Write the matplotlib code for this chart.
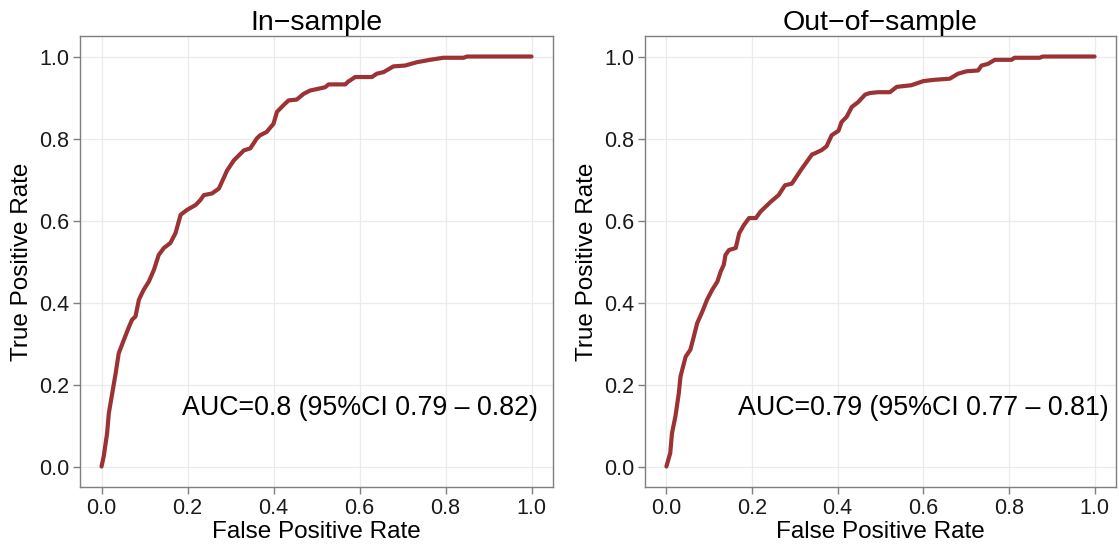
import matplotlib
matplotlib.use("Agg")
import matplotlib.pyplot as plt

plt.rcParams['font.family'] = ['Liberation Sans', 'DejaVu Sans']

# ROC curve, in-sample
fpr_in = [0.0, 0.005, 0.013, 0.017, 0.025, 0.033, 0.04, 0.052, 0.064, 0.071, 0.079, 0.087,
          0.098, 0.11, 0.122, 0.133, 0.145, 0.16, 0.172, 0.184, 0.199, 0.219, 0.23, 0.238,
          0.257, 0.273, 0.292, 0.308, 0.331, 0.346, 0.361, 0.369, 0.384, 0.4, 0.408, 0.423,
          0.435, 0.454, 0.47, 0.485, 0.52, 0.528, 0.567, 0.574, 0.59, 0.629, 0.64, 0.656,
          0.679, 0.706, 0.733, 0.764, 0.795, 0.842, 0.85, 1.0]
tpr_in = [0.0, 0.024, 0.081, 0.13, 0.179, 0.228, 0.276, 0.309, 0.341, 0.358, 0.366, 0.407,
          0.431, 0.451, 0.48, 0.516, 0.533, 0.545, 0.569, 0.614, 0.626, 0.638, 0.65, 0.662,
          0.666, 0.678, 0.722, 0.747, 0.771, 0.776, 0.8, 0.808, 0.816, 0.836, 0.865, 0.881,
          0.893, 0.895, 0.909, 0.917, 0.925, 0.932, 0.932, 0.939, 0.95, 0.95, 0.958, 0.962,
          0.976, 0.978, 0.986, 0.992, 0.997, 0.997, 1.0, 1.0]

# ROC curve, out-of-sample
fpr_out = [0.0, 0.009, 0.013, 0.021, 0.029, 0.033, 0.045, 0.056, 0.064, 0.072, 0.084, 0.095,
           0.107, 0.119, 0.127, 0.134, 0.138, 0.146, 0.162, 0.17, 0.181, 0.193, 0.209, 0.22,
           0.244, 0.262, 0.277, 0.293, 0.316, 0.34, 0.347, 0.363, 0.374, 0.386, 0.402, 0.409,
           0.421, 0.433, 0.448, 0.464, 0.475, 0.495, 0.522, 0.538, 0.572, 0.6, 0.623, 0.662,
           0.681, 0.701, 0.728, 0.736, 0.751, 0.767, 0.806, 0.813, 0.872, 0.879, 1.0]
tpr_out = [0.0, 0.033, 0.081, 0.122, 0.179, 0.22, 0.268, 0.285, 0.317, 0.35, 0.378, 0.407,
           0.431, 0.451, 0.476, 0.492, 0.516, 0.528, 0.533, 0.569, 0.589, 0.606, 0.606, 0.622,
           0.646, 0.662, 0.686, 0.69, 0.726, 0.761, 0.764, 0.772, 0.781, 0.808, 0.819, 0.84,
           0.853, 0.877, 0.889, 0.907, 0.911, 0.913, 0.913, 0.926, 0.93, 0.94, 0.943, 0.946,
           0.958, 0.964, 0.966, 0.978, 0.982, 0.992, 0.992, 0.997, 0.997, 1.0, 1.0]

titles = ["In\u2212sample", "Out\u2212of\u2212sample"]
auc_labels = ["AUC=0.8 (95%CI 0.79 \u2013 0.82)", "AUC=0.79 (95%CI 0.77 \u2013 0.81)"]
ticks = [0.0, 0.2, 0.4, 0.6, 0.8, 1.0]
tick_labels = ["0.0", "0.2", "0.4", "0.6", "0.8", "1.0"]

fig = plt.figure(figsize=(11.19, 5.5), dpi=100)
positions = [[0.0715, 0.1145, 0.4227, 0.82], [0.5764, 0.1145, 0.4209, 0.82]]
curves = [(fpr_in, tpr_in), (fpr_out, tpr_out)]

for pos, (fx, ty), title, lab in zip(positions, curves, titles, auc_labels):
    ax = fig.add_axes(pos)
    ax.plot(fx, ty, color='#9b3234', lw=3.0, solid_capstyle='round',
            solid_joinstyle='round', zorder=3)
    ax.set_xlim(-0.05, 1.05)
    ax.set_ylim(-0.05, 1.05)
    ax.set_xticks(ticks)
    ax.set_xticklabels(tick_labels)
    ax.set_yticks(ticks)
    ax.set_yticklabels(tick_labels)
    ax.grid(True, color='#ebebeb', lw=0.9)
    ax.set_axisbelow(True)
    for s in ax.spines.values():
        s.set_color('#7f7f7f')
        s.set_linewidth(1.0)
    ax.tick_params(direction='out', length=5, width=1, color='#7f7f7f',
                   labelsize=15.5, labelcolor='#1a1a1a', pad=3)
    ax.set_xlabel("False Positive Rate", fontsize=17.5, labelpad=1)
    ax.set_ylabel("True Positive Rate", fontsize=17.5, labelpad=4)
    ax.set_title(title, fontsize=20.5, pad=3)
    ax.text(0.6, 0.143, lab, fontsize=19.3, ha='center', va='center')

fig.savefig("out.png", dpi=100)
